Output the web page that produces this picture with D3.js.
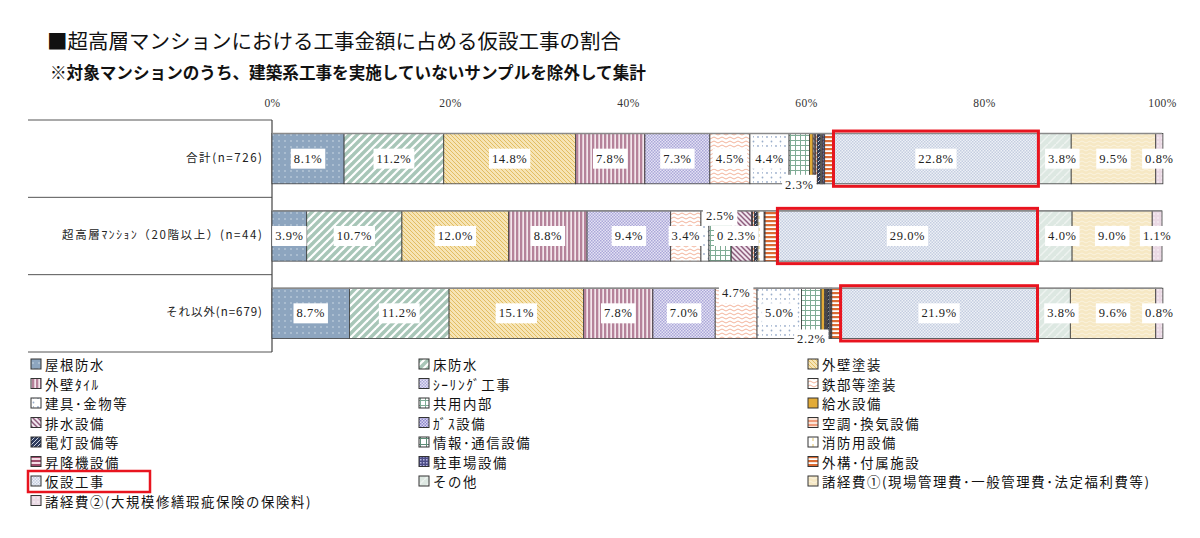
<!DOCTYPE html>
<html>
<head>
<meta charset="utf-8">
<script src="https://cdn.jsdelivr.net/npm/d3@7"></script>
<style>
  body { margin: 0; background: #fff; }
  svg { display: block; font-family: "Noto Sans CJK JP", sans-serif; }
</style>
</head>
<body>
<div class="vis-stack"></div>
<script>
// categories in stacking order (same order as legend, row-major)
const categories = [
  "屋根防水", "床防水", "外壁塗装", "外壁ﾀｲﾙ", "ｼｰﾘﾝｸﾞ工事", "鉄部等塗装",
  "建具･金物等", "共用内部", "給水設備", "排水設備", "ｶﾞｽ設備", "空調･換気設備",
  "電灯設備等", "情報･通信設備", "消防用設備", "昇降機設備", "駐車場設備", "外構･付属施設",
  "仮設工事", "その他", "諸経費①(現場管理費･一般管理費･法定福利費等)", "諸経費②(大規模修繕瑕疵保険の保険料)"
];
const rowLabels = ["合計(n=726)", "超高層ﾏﾝｼｮﾝ（20階以上）(n=44)", "それ以外(n=679)"];

// shares in % (small ones estimated)
const totalValues    = [8.1, 11.2, 14.8, 7.8, 7.3, 4.5, 4.4, 2.3, 0.4, 0.2, 0.1, 0.2, 0.3, 0.1, 0.1, 0.1, 0.2, 1.1, 22.8, 3.8, 9.5, 0.8];
const highRiseValues = [3.9, 10.7, 12.0, 8.8, 9.4, 3.4, 0.9, 2.5, 0.0, 2.3, 0.1, 0.2, 0.3, 0.1, 0.7, 0.1, 0.0, 1.5, 29.0, 4.0, 9.0, 1.1];
const otherValues    = [8.7, 11.2, 15.1, 7.8, 7.0, 4.7, 5.0, 2.2, 0.4, 0.1, 0.1, 0.1, 0.2, 0.0, 0.1, 0.1, 0.1, 1.1, 21.9, 3.8, 9.6, 0.8];
const rowValues = [totalValues, highRiseValues, otherValues];

const xTicks = [0, 20, 40, 60, 80, 100];

// which segments carry a value label, and where (mid / top / bottom of the bar)
const labelled = [
  {0:"mid",1:"mid",2:"mid",3:"mid",4:"mid",5:"mid",6:"mid",7:"bottom",18:"mid",19:"mid",20:"mid",21:"mid"},
  {0:"mid",1:"mid",2:"mid",3:"mid",4:"mid",5:"mid",7:"top",8:"mid",9:"mid",18:"mid",19:"mid",20:"mid",21:"mid"},
  {0:"mid",1:"mid",2:"mid",3:"mid",4:"mid",5:"top",6:"mid",7:"bottom",18:"mid",19:"mid",20:"mid",21:"mid"}
];
const labelDx = {19: 8};   // その他 labels sit a bit right of centre in the original
const highlight = "仮設工事";

const W = 1200, H = 538;
const svg = d3.select(".vis-stack").append("svg").attr("width", W).attr("height", H);
const defs = svg.append("defs");

// ---- fill patterns, one per category ----
function pat(id, w, h, bg, draw) {
  const p = defs.append("pattern").attr("id", id).attr("patternUnits", "userSpaceOnUse")
    .attr("width", w).attr("height", h);
  p.append("rect").attr("width", w).attr("height", h).attr("fill", bg);
  draw(p);
}
const line = (p, x1, y1, x2, y2, c, sw) => p.append("line").attr("x1", x1).attr("y1", y1)
  .attr("x2", x2).attr("y2", y2).attr("stroke", c).attr("stroke-width", sw);
const dot = (p, cx, cy, r, c) => p.append("circle").attr("cx", cx).attr("cy", cy).attr("r", r).attr("fill", c);
const box = (p, x, y, w, h, c) => p.append("rect").attr("x", x).attr("y", y).attr("width", w).attr("height", h).attr("fill", c);
const wave = (p, c, sw) => p.append("path").attr("d", "M0,2 Q2,0 4,2 T8,2").attr("fill", "none").attr("stroke", c).attr("stroke-width", sw);

pat("p0", 6, 6, "#8da5bf", p => dot(p, 3, 3, 0.7, "#dfe7f0"));
pat("p1", 8, 8, "#a8c6b8", p => { line(p, 0, 8, 8, 0, "#fff", 2.2); line(p, -2, 2, 2, -2, "#fff", 2.2); line(p, 6, 10, 10, 6, "#fff", 2.2); });
pat("p2", 4, 4, "#f6e4b5", p => { line(p, 0, 0, 4, 4, "#e2bd62", 1); line(p, -2, 2, 2, 6, "#e2bd62", 1); line(p, 2, -2, 6, 2, "#e2bd62", 1); });
pat("p3", 4, 4, "#f3e6ec", p => box(p, 0, 0, 2.3, 4, "#b5829a"));
pat("p4", 3, 3, "#e4e2f4", p => { box(p, 0, 0, 1.5, 1.5, "#aba7d8"); box(p, 1.5, 1.5, 1.5, 1.5, "#aba7d8"); });
pat("p5", 8, 4, "#fff", p => wave(p, "#f1a98e", 0.9));
pat("p6", 9, 9, "#fff", p => { dot(p, 2, 2, 0.9, "#9aaecb"); dot(p, 6.5, 6.5, 0.9, "#9aaecb"); box(p, 6, 1, 0.8, 1.6, "#9aaecb"); });
pat("p7", 5, 5, "#fff", p => { box(p, 0, 0, 5, 1, "#7fac95"); box(p, 0, 0, 1, 5, "#7fac95"); });
pat("p8", 4, 4, "#e2ab38", p => {});
pat("p9", 5, 5, "#f1e6ee", p => { line(p, 0, 0, 5, 5, "#8d5b7c", 1.5); line(p, -2.5, 2.5, 2.5, 7.5, "#8d5b7c", 1.5); line(p, 2.5, -2.5, 7.5, 2.5, "#8d5b7c", 1.5); });
pat("p10", 3, 3, "#d9d6f0", p => { box(p, 0, 0, 1.5, 1.5, "#8d87cc"); box(p, 1.5, 1.5, 1.5, 1.5, "#8d87cc"); });
pat("p11", 4, 4, "#fbe3d6", p => box(p, 0, 0, 4, 2, "#ef9c7c"));
pat("p12", 4, 4, "#2c3a5c", p => line(p, 0, 4, 4, 0, "#dfe4ef", 0.9));
pat("p13", 6, 6, "#fff", p => { box(p, 0, 0, 6, 1, "#5f8e78"); box(p, 0, 0, 1, 6, "#5f8e78"); });
pat("p14", 6, 6, "#fff", p => box(p, 2.5, 0, 1, 3, "#e4c66a"));
pat("p15", 4, 4, "#f4dbe5", p => box(p, 0, 0, 4, 2, "#9e4c6c"));
pat("p16", 3, 3, "#4d4d88", p => { box(p, 0, 0, 1.5, 1.5, "#b8b8e0"); });
pat("p17", 4, 4, "#fff", p => box(p, 0, 0, 4, 2.2, "#db6c34"));
pat("p18", 3, 3, "#eef1f7", p => { box(p, 0, 0, 1.5, 1.5, "#c4cde0"); box(p, 1.5, 1.5, 1.5, 1.5, "#c4cde0"); });
pat("p19", 8, 8, "#dde8e2", p => line(p, 0, 8, 8, 0, "#eef3f0", 1.5));
pat("p20", 8, 4, "#f6e8c4", p => wave(p, "#fbf3df", 1));
pat("p21", 4, 4, "#ead9e4", p => dot(p, 2, 2, 0.7, "#fff"));

const fillOf = i => `url(#p${i})`;

// ---- titles ----
svg.append("text").attr("x", 47).attr("y", 49)
  .style("font-size", "20.5px").style("fill", "#111")
  .text("■超高層マンションにおける工事金額に占める仮設工事の割合");
svg.append("text").attr("x", 50).attr("y", 79)
  .style("font-size", "16.6px").style("font-weight", "bold").style("fill", "#111")
  .text("※対象マンションのうち、建築系工事を実施していないサンプルを除外して集計");

// ---- scales ----
const x = d3.scaleLinear().domain([0, 100]).range([272, 1162]);
const y = d3.scaleBand().domain(rowLabels).range([120, 352]).paddingInner(0.35).paddingOuter(0.175);

const xAxis = svg.append("g").attr("transform", "translate(0,110)")
  .call(d3.axisTop(x).tickValues(xTicks).tickFormat(d => d + "%").tickSize(0));
xAxis.select(".domain").remove();
xAxis.selectAll("text").style("font-family", "'Liberation Serif', serif").style("font-size", "11.5px")
  .style("letter-spacing", "0.4px").style("fill", "#333");

// left table lines and the vertical axis
const step = y.step();
d3.range(rowLabels.length + 1).forEach(i => {
  svg.append("line").attr("x1", 28).attr("x2", x(0)).attr("y1", 120 + i * step).attr("y2", 120 + i * step)
    .attr("stroke", "#555").attr("stroke-width", 1);
});
svg.append("line").attr("x1", x(0)).attr("x2", x(0)).attr("y1", 120).attr("y2", 120 + 3 * step)
  .attr("stroke", "#444").attr("stroke-width", 1.2);

// row names, stretched to the width they take in the original
const rowLabelWidth = [76, 200, 96];
svg.selectAll(".rowlab").data(rowLabels).enter().append("text")
  .attr("x", 262).attr("y", d => y(d) + y.bandwidth() / 2)
  .attr("text-anchor", "end").attr("dominant-baseline", "middle")
  .attr("textLength", (d, i) => rowLabelWidth[i]).attr("lengthAdjust", "spacing")
  .style("font-size", (d, i) => i === 1 ? "11.5px" : "11.5px").style("fill", "#222")
  .text(d => d);

// ---- stacked segments ----
const rows = rowLabels.map((r, ri) => {
  let acc = 0;
  return rowValues[ri].map((v, ci) => {
    const seg = { row: r, ri, ci, v, x0: acc, x1: acc + v };
    acc += v;
    return seg;
  });
});
const segs = rows.flat();

const bars = svg.append("g");
bars.selectAll("rect").data(segs.filter(d => d.v > 0)).enter().append("rect")
  .attr("x", d => x(d.x0)).attr("width", d => x(d.x1) - x(d.x0))
  .attr("y", d => y(d.row)).attr("height", y.bandwidth())
  .attr("fill", d => fillOf(d.ci))
  .attr("stroke", "#3a3a3a").attr("stroke-width", 0.8);

// gray top rim of each bar
rowLabels.forEach(r => {
  bars.append("line").attr("x1", x(0)).attr("x2", x(100)).attr("y1", y(r)).attr("y2", y(r))
    .attr("stroke", "#8a8a8a").attr("stroke-width", 1.5);
});

// ---- red highlight boxes ----
segs.filter(d => categories[d.ci] === highlight).forEach(d => {
  svg.append("rect").attr("x", x(d.x0) - 1).attr("y", y(d.row) - 2.5)
    .attr("width", x(d.x1) - x(d.x0) + 2).attr("height", y.bandwidth() + 5)
    .attr("fill", "none").attr("stroke", "#e8141f").attr("stroke-width", 3);
});

// ---- value labels ----
const labs = segs.filter(d => labelled[d.ri][d.ci] !== undefined);
const lg = svg.append("g").style("font-family", "'Liberation Serif', serif").style("font-size", "12.5px");
labs.forEach(d => {
  const pos = labelled[d.ri][d.ci];
  const cx = x((d.x0 + d.x1) / 2) + (labelDx[d.ci] || 0);
  let cy = y(d.row) + y.bandwidth() / 2;
  if (pos === "top") cy = y(d.row) + 5;
  if (pos === "bottom") cy = y(d.row) + y.bandwidth() + 1;
  const g = lg.append("g");
  const t = g.append("text").attr("x", cx).attr("y", cy)
    .attr("text-anchor", "middle").attr("dominant-baseline", "central")
    .style("letter-spacing", "0.6px").style("fill", "#222")
    .text(d.v.toFixed(1) + "%");
  const bb = t.node().getBBox();
  g.insert("rect", "text").attr("x", bb.x - 3).attr("y", cy - 10).attr("width", bb.width + 6).attr("height", 20)
    .attr("fill", "#fff");
});

// ---- legend ----
const colX = [31, 419, 808];
const legend = svg.append("g");
categories.forEach((c, i) => {
  const col = i % 3, rw = Math.floor(i / 3);
  const gx = colX[col], gy = 364 + rw * 19.5;
  legend.append("rect").attr("x", gx).attr("y", gy - 5).attr("width", 10).attr("height", 10)
    .attr("fill", fillOf(i)).attr("stroke", "#333").attr("stroke-width", 1);
  legend.append("text").attr("x", gx + 14).attr("y", gy).attr("dominant-baseline", "central")
    .style("font-size", "13.4px").style("letter-spacing", "1.6px").style("fill", "#111").text(c);
  if (c === highlight) {
    legend.append("rect").attr("x", gx - 3).attr("y", gy - 10).attr("width", 122).attr("height", 21)
      .attr("fill", "none").attr("stroke", "#e8141f").attr("stroke-width", 2.5);
  }
});
</script>
</body>
</html>
